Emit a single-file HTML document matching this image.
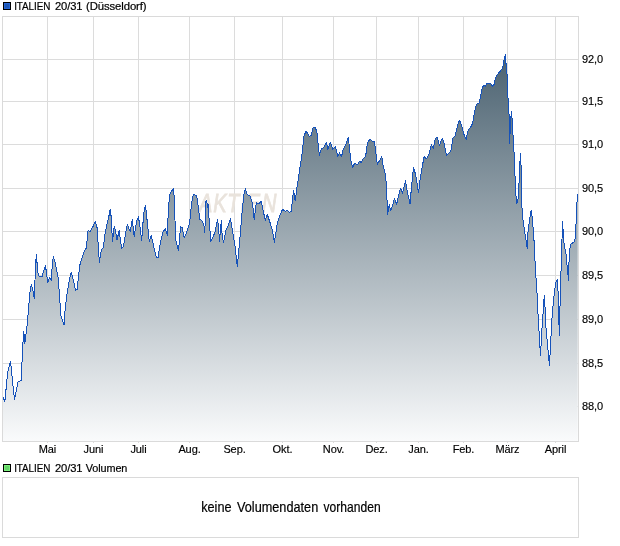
<!DOCTYPE html>
<html><head><meta charset="utf-8"><title>ITALIEN 20/31</title>
<style>
html,body{margin:0;padding:0;background:#fff;}
body{width:620px;height:546px;overflow:hidden;font-family:"Liberation Sans",sans-serif;}
svg{display:block}
text{font-family:"Liberation Sans",sans-serif;font-size:11px;fill:#000;letter-spacing:-0.1px;stroke:#000;stroke-width:0.15px}
</style></head><body>
<svg width="620" height="546" viewBox="0 0 620 546">
<defs>
<linearGradient id="g" gradientUnits="userSpaceOnUse" x1="0" y1="16.5" x2="0" y2="441.5">
<stop offset="0" stop-color="#3a5363"/>
<stop offset="1" stop-color="#fafbfc"/>
</linearGradient>
</defs>
<rect x="0" y="0" width="620" height="546" fill="#fff"/>

<rect x="3" y="2" width="8" height="8" fill="#000"/><rect x="4" y="3" width="6" height="6" fill="#2866d4"/><rect x="5" y="4" width="4" height="4" fill="#1e58b8"/>
<text y="10" style="stroke:#000;stroke-width:0.2px"><tspan x="14.2" textLength="36" lengthAdjust="spacingAndGlyphs">ITALIEN</tspan><tspan x="55" textLength="27.5" lengthAdjust="spacingAndGlyphs">20/31</tspan><tspan x="86" textLength="60.5" lengthAdjust="spacingAndGlyphs">(Düsseldorf)</tspan></text>
<g stroke="#dcdcdc" stroke-width="1" shape-rendering="crispEdges">
<line x1="47.5" y1="16.5" x2="47.5" y2="442.5"/>
<line x1="93.5" y1="16.5" x2="93.5" y2="442.5"/>
<line x1="138.5" y1="16.5" x2="138.5" y2="442.5"/>
<line x1="189.5" y1="16.5" x2="189.5" y2="442.5"/>
<line x1="234.5" y1="16.5" x2="234.5" y2="442.5"/>
<line x1="282.5" y1="16.5" x2="282.5" y2="442.5"/>
<line x1="333.5" y1="16.5" x2="333.5" y2="442.5"/>
<line x1="376.5" y1="16.5" x2="376.5" y2="442.5"/>
<line x1="418.5" y1="16.5" x2="418.5" y2="442.5"/>
<line x1="463.5" y1="16.5" x2="463.5" y2="442.5"/>
<line x1="507.5" y1="16.5" x2="507.5" y2="442.5"/>
<line x1="555.5" y1="16.5" x2="555.5" y2="442.5"/>
<line x1="2.5" y1="59.5" x2="578.5" y2="59.5"/>
<line x1="2.5" y1="101.5" x2="578.5" y2="101.5"/>
<line x1="2.5" y1="144.5" x2="578.5" y2="144.5"/>
<line x1="2.5" y1="188.5" x2="578.5" y2="188.5"/>
<line x1="2.5" y1="231.5" x2="578.5" y2="231.5"/>
<line x1="2.5" y1="275.5" x2="578.5" y2="275.5"/>
<line x1="2.5" y1="319.5" x2="578.5" y2="319.5"/>
<line x1="2.5" y1="363.5" x2="578.5" y2="363.5"/>
<line x1="2.5" y1="406.5" x2="578.5" y2="406.5"/>
</g>
<text transform="translate(198,211.7) scale(0.8,1)" x="1.2 19 36.5 53 61 80" y="0" style="font-size:25px;font-style:italic;letter-spacing:0;fill:#e9e3dc;stroke:#e9e3dc;stroke-width:0.8px">AKTIEN</text>
<path d="M3.0,396.8 L4.8,401.8 L7.7,372.6 L10.5,361.5 L14.5,399.8 L18.1,381.7 L21.2,380.6 L22.8,344.4 L23.8,331.3 L24.8,343.3 L27.2,324.2 L28.6,308.0 L29.8,292.7 L31.3,284.7 L32.9,290.7 L34.3,298.8 L35.5,266.5 L36.3,254.8 L37.3,265.5 L38.3,275.6 L40.3,276.6 L42.3,276.2 L44.0,269.6 L45.4,265.5 L46.8,274.6 L47.6,282.7 L49.4,277.6 L51.4,280.2 L52.4,262.5 L53.4,256.5 L55.4,263.5 L58.1,277.6 L59.5,294.8 L60.9,316.0 L64.1,325.2 L65.1,310.0 L66.9,294.8 L69.6,278.6 L71.2,272.6 L73.0,278.6 L75.6,290.3 L77.2,289.7 L78.6,274.6 L80.0,264.5 L83.7,252.4 L86.3,248.0 L88.1,230.2 L89.7,231.9 L92.7,227.2 L95.4,221.2 L97.2,228.2 L98.4,248.4 L99.4,262.1 L101.4,249.4 L103.4,247.4 L105.4,231.3 L108.5,218.1 L110.3,209.1 L111.4,219.0 L112.4,241.5 L114.3,226.3 L115.5,230.3 L117.0,240.0 L119.2,230.3 L121.5,248.3 L123.3,247.0 L125.7,232.5 L127.3,224.4 L130.2,231.5 L132.2,219.4 L134.2,236.5 L136.6,221.4 L138.4,216.8 L139.8,225.4 L141.7,240.6 L143.7,213.3 L145.5,205.3 L146.9,218.4 L149.3,241.6 L151.3,235.5 L153.3,244.6 L156.4,257.7 L158.0,257.7 L160.4,242.6 L162.8,232.5 L165.4,228.5 L167.3,235.5 L168.5,206.3 L170.1,193.2 L173.5,188.5 L174.5,201.3 L175.5,238.5 L178.5,250.6 L180.6,226.5 L182.0,227.5 L184.2,237.5 L186.6,232.5 L189.6,223.4 L191.7,202.3 L193.3,194.2 L196.7,196.2 L198.1,205.3 L199.7,219.4 L201.7,220.4 L203.8,224.4 L204.8,232.5 L205.8,201.3 L206.8,200.2 L207.4,207.3 L208.2,204.3 L209.2,220.4 L210.8,241.6 L213.2,236.5 L215.2,231.5 L217.5,219.4 L218.5,225.4 L219.5,241.6 L221.3,220.4 L222.1,234.5 L223.5,242.6 L225.9,230.5 L228.4,224.8 L230.5,218.5 L232.1,228.5 L235.1,246.7 L237.3,266.9 L239.7,240.6 L242.1,212.4 L243.8,195.3 L245.4,188.6 L247.2,194.7 L250.2,196.3 L252.6,204.4 L254.2,219.5 L256.3,202.3 L258.3,204.0 L261.3,201.3 L263.3,211.4 L265.3,220.1 L267.3,214.4 L270.0,222.5 L272.4,230.6 L274.4,242.3 L277.4,222.5 L280.0,215.4 L282.5,209.4 L285.5,211.4 L287.5,210.4 L289.5,212.4 L291.1,211.5 L292.5,200.3 L293.5,190.2 L295.2,201.0 L297.0,187.5 L299.8,169.0 L302.5,150.3 L304.1,135.2 L306.1,131.2 L308.1,134.2 L309.2,136.8 L311.2,135.2 L313.2,127.7 L315.2,127.1 L317.2,133.2 L318.2,145.3 L319.4,155.4 L321.3,149.3 L323.9,147.3 L326.3,142.3 L327.9,149.3 L330.3,142.3 L332.7,149.3 L335.4,146.3 L337.8,156.4 L339.4,152.7 L341.6,156.8 L342.8,150.3 L345.4,145.3 L348.5,137.2 L349.5,149.3 L351.1,161.4 L352.5,167.5 L354.5,163.4 L357.5,164.4 L359.6,161.4 L361.0,162.4 L363.6,158.4 L365.6,156.4 L367.6,142.3 L370.2,139.2 L372.7,141.9 L374.3,141.3 L375.7,151.3 L377.3,164.4 L379.7,160.4 L381.7,156.4 L383.1,165.4 L385.2,173.5 L386.4,184.6 L387.6,214.8 L389.2,204.8 L390.8,210.8 L392.8,204.8 L394.4,198.1 L396.5,204.8 L398.5,195.7 L400.5,188.2 L402.5,193.1 L405.5,181.0 L407.5,192.7 L410.0,203.8 L411.6,186.0 L413.5,167.6 L415.7,174.7 L418.5,192.8 L420.2,178.7 L422.2,166.6 L424.2,156.5 L426.6,158.9 L429.2,153.5 L431.3,144.8 L433.3,148.5 L435.3,138.4 L437.3,137.4 L439.3,145.4 L442.3,138.0 L444.4,144.4 L446.4,155.5 L448.4,153.5 L450.8,151.5 L452.8,138.4 L455.4,135.4 L457.5,125.3 L459.5,120.2 L461.5,125.3 L463.5,133.3 L466.1,139.4 L468.1,130.3 L470.6,127.3 L472.6,123.3 L473.9,115.4 L475.8,106.6 L477.3,103.6 L479.1,102.9 L480.5,96.3 L482.0,89.0 L483.5,85.3 L485.2,86.3 L486.7,83.8 L488.6,83.1 L490.8,83.6 L492.5,86.3 L494.0,84.6 L495.2,78.7 L496.6,75.8 L498.8,72.9 L500.7,70.7 L502.5,68.2 L503.5,63.3 L504.3,58.2 L505.4,55.0 L505.9,63.3 L506.6,64.1 L507.2,78.7 L508.1,100.7 L508.8,111.0 L509.3,118.2 L509.7,143.4 L510.5,120.2 L511.5,111.2 L512.3,121.3 L513.3,140.4 L514.5,160.0 L515.4,187.6 L516.6,203.4 L517.9,200.8 L518.8,189.1 L519.6,166.6 L520.6,153.5 L521.2,170.6 L521.6,197.9 L522.3,215.4 L524.2,228.6 L526.1,240.4 L527.3,249.0 L528.1,230.1 L529.8,218.4 L531.2,210.3 L532.2,217.6 L533.4,231.6 L534.4,246.2 L534.9,259.0 L535.9,276.6 L537.1,294.2 L537.8,310.3 L538.8,327.9 L539.9,346.2 L540.5,355.7 L541.0,346.2 L541.8,330.8 L542.9,316.1 L543.7,302.9 L544.3,295.0 L545.0,306.6 L545.9,326.4 L547.3,342.5 L548.7,357.2 L549.5,365.7 L550.0,355.7 L550.9,338.1 L551.7,322.0 L552.8,308.1 L554.2,294.2 L555.7,282.5 L557.5,279.9 L558.2,294.2 L558.7,316.1 L559.4,335.9 L559.8,316.0 L560.1,301.6 L560.8,276.6 L561.6,254.7 L562.0,238.9 L562.4,221.0 L563.0,228.6 L563.5,240.4 L564.5,245.9 L566.0,253.9 L567.7,272.2 L568.6,281.0 L569.2,254.7 L570.4,244.4 L572.6,242.9 L574.0,241.8 L575.2,238.9 L575.9,227.2 L576.7,205.2 L577.7,194.2 L577.7,441.5 L3.0,441.5 Z" fill="url(#g)"/>
<path d="M3.0,396.8 L4.8,401.8 L7.7,372.6 L10.5,361.5 L14.5,399.8 L18.1,381.7 L21.2,380.6 L22.8,344.4 L23.8,331.3 L24.8,343.3 L27.2,324.2 L28.6,308.0 L29.8,292.7 L31.3,284.7 L32.9,290.7 L34.3,298.8 L35.5,266.5 L36.3,254.8 L37.3,265.5 L38.3,275.6 L40.3,276.6 L42.3,276.2 L44.0,269.6 L45.4,265.5 L46.8,274.6 L47.6,282.7 L49.4,277.6 L51.4,280.2 L52.4,262.5 L53.4,256.5 L55.4,263.5 L58.1,277.6 L59.5,294.8 L60.9,316.0 L64.1,325.2 L65.1,310.0 L66.9,294.8 L69.6,278.6 L71.2,272.6 L73.0,278.6 L75.6,290.3 L77.2,289.7 L78.6,274.6 L80.0,264.5 L83.7,252.4 L86.3,248.0 L88.1,230.2 L89.7,231.9 L92.7,227.2 L95.4,221.2 L97.2,228.2 L98.4,248.4 L99.4,262.1 L101.4,249.4 L103.4,247.4 L105.4,231.3 L108.5,218.1 L110.3,209.1 L111.4,219.0 L112.4,241.5 L114.3,226.3 L115.5,230.3 L117.0,240.0 L119.2,230.3 L121.5,248.3 L123.3,247.0 L125.7,232.5 L127.3,224.4 L130.2,231.5 L132.2,219.4 L134.2,236.5 L136.6,221.4 L138.4,216.8 L139.8,225.4 L141.7,240.6 L143.7,213.3 L145.5,205.3 L146.9,218.4 L149.3,241.6 L151.3,235.5 L153.3,244.6 L156.4,257.7 L158.0,257.7 L160.4,242.6 L162.8,232.5 L165.4,228.5 L167.3,235.5 L168.5,206.3 L170.1,193.2 L173.5,188.5 L174.5,201.3 L175.5,238.5 L178.5,250.6 L180.6,226.5 L182.0,227.5 L184.2,237.5 L186.6,232.5 L189.6,223.4 L191.7,202.3 L193.3,194.2 L196.7,196.2 L198.1,205.3 L199.7,219.4 L201.7,220.4 L203.8,224.4 L204.8,232.5 L205.8,201.3 L206.8,200.2 L207.4,207.3 L208.2,204.3 L209.2,220.4 L210.8,241.6 L213.2,236.5 L215.2,231.5 L217.5,219.4 L218.5,225.4 L219.5,241.6 L221.3,220.4 L222.1,234.5 L223.5,242.6 L225.9,230.5 L228.4,224.8 L230.5,218.5 L232.1,228.5 L235.1,246.7 L237.3,266.9 L239.7,240.6 L242.1,212.4 L243.8,195.3 L245.4,188.6 L247.2,194.7 L250.2,196.3 L252.6,204.4 L254.2,219.5 L256.3,202.3 L258.3,204.0 L261.3,201.3 L263.3,211.4 L265.3,220.1 L267.3,214.4 L270.0,222.5 L272.4,230.6 L274.4,242.3 L277.4,222.5 L280.0,215.4 L282.5,209.4 L285.5,211.4 L287.5,210.4 L289.5,212.4 L291.1,211.5 L292.5,200.3 L293.5,190.2 L295.2,201.0 L297.0,187.5 L299.8,169.0 L302.5,150.3 L304.1,135.2 L306.1,131.2 L308.1,134.2 L309.2,136.8 L311.2,135.2 L313.2,127.7 L315.2,127.1 L317.2,133.2 L318.2,145.3 L319.4,155.4 L321.3,149.3 L323.9,147.3 L326.3,142.3 L327.9,149.3 L330.3,142.3 L332.7,149.3 L335.4,146.3 L337.8,156.4 L339.4,152.7 L341.6,156.8 L342.8,150.3 L345.4,145.3 L348.5,137.2 L349.5,149.3 L351.1,161.4 L352.5,167.5 L354.5,163.4 L357.5,164.4 L359.6,161.4 L361.0,162.4 L363.6,158.4 L365.6,156.4 L367.6,142.3 L370.2,139.2 L372.7,141.9 L374.3,141.3 L375.7,151.3 L377.3,164.4 L379.7,160.4 L381.7,156.4 L383.1,165.4 L385.2,173.5 L386.4,184.6 L387.6,214.8 L389.2,204.8 L390.8,210.8 L392.8,204.8 L394.4,198.1 L396.5,204.8 L398.5,195.7 L400.5,188.2 L402.5,193.1 L405.5,181.0 L407.5,192.7 L410.0,203.8 L411.6,186.0 L413.5,167.6 L415.7,174.7 L418.5,192.8 L420.2,178.7 L422.2,166.6 L424.2,156.5 L426.6,158.9 L429.2,153.5 L431.3,144.8 L433.3,148.5 L435.3,138.4 L437.3,137.4 L439.3,145.4 L442.3,138.0 L444.4,144.4 L446.4,155.5 L448.4,153.5 L450.8,151.5 L452.8,138.4 L455.4,135.4 L457.5,125.3 L459.5,120.2 L461.5,125.3 L463.5,133.3 L466.1,139.4 L468.1,130.3 L470.6,127.3 L472.6,123.3 L473.9,115.4 L475.8,106.6 L477.3,103.6 L479.1,102.9 L480.5,96.3 L482.0,89.0 L483.5,85.3 L485.2,86.3 L486.7,83.8 L488.6,83.1 L490.8,83.6 L492.5,86.3 L494.0,84.6 L495.2,78.7 L496.6,75.8 L498.8,72.9 L500.7,70.7 L502.5,68.2 L503.5,63.3 L504.3,58.2 L505.4,55.0 L505.9,63.3 L506.6,64.1 L507.2,78.7 L508.1,100.7 L508.8,111.0 L509.3,118.2 L509.7,143.4 L510.5,120.2 L511.5,111.2 L512.3,121.3 L513.3,140.4 L514.5,160.0 L515.4,187.6 L516.6,203.4 L517.9,200.8 L518.8,189.1 L519.6,166.6 L520.6,153.5 L521.2,170.6 L521.6,197.9 L522.3,215.4 L524.2,228.6 L526.1,240.4 L527.3,249.0 L528.1,230.1 L529.8,218.4 L531.2,210.3 L532.2,217.6 L533.4,231.6 L534.4,246.2 L534.9,259.0 L535.9,276.6 L537.1,294.2 L537.8,310.3 L538.8,327.9 L539.9,346.2 L540.5,355.7 L541.0,346.2 L541.8,330.8 L542.9,316.1 L543.7,302.9 L544.3,295.0 L545.0,306.6 L545.9,326.4 L547.3,342.5 L548.7,357.2 L549.5,365.7 L550.0,355.7 L550.9,338.1 L551.7,322.0 L552.8,308.1 L554.2,294.2 L555.7,282.5 L557.5,279.9 L558.2,294.2 L558.7,316.1 L559.4,335.9 L559.8,316.0 L560.1,301.6 L560.8,276.6 L561.6,254.7 L562.0,238.9 L562.4,221.0 L563.0,228.6 L563.5,240.4 L564.5,245.9 L566.0,253.9 L567.7,272.2 L568.6,281.0 L569.2,254.7 L570.4,244.4 L572.6,242.9 L574.0,241.8 L575.2,238.9 L575.9,227.2 L576.7,205.2 L577.7,194.2" fill="none" stroke="#1552ba" stroke-width="1" stroke-linejoin="round" shape-rendering="crispEdges"/>
<rect x="2.5" y="16.5" width="576.0" height="425.0" fill="none" stroke="#dadada" shape-rendering="crispEdges"/>
<text x="47.5" y="453" text-anchor="middle">Mai</text>
<text x="93.5" y="453" text-anchor="middle">Juni</text>
<text x="138.5" y="453" text-anchor="middle">Juli</text>
<text x="189.5" y="453" text-anchor="middle">Aug.</text>
<text x="234.5" y="453" text-anchor="middle">Sep.</text>
<text x="282.5" y="453" text-anchor="middle">Okt.</text>
<text x="333.5" y="453" text-anchor="middle">Nov.</text>
<text x="376.5" y="453" text-anchor="middle">Dez.</text>
<text x="418.5" y="453" text-anchor="middle">Jan.</text>
<text x="463.5" y="453" text-anchor="middle">Feb.</text>
<text x="507.5" y="453" text-anchor="middle">März</text>
<text x="555.5" y="453" text-anchor="middle">April</text>
<text x="582" y="62.7">92,0</text>
<text x="582" y="104.7">91,5</text>
<text x="582" y="147.7">91,0</text>
<text x="582" y="191.7">90,5</text>
<text x="582" y="234.7">90,0</text>
<text x="582" y="278.7">89,5</text>
<text x="582" y="322.7">89,0</text>
<text x="582" y="366.7">88,5</text>
<text x="582" y="409.7">88,0</text>
<rect x="3" y="464" width="8" height="8" fill="#000"/><rect x="4" y="465" width="6" height="6" fill="#7cf07c"/><rect x="5" y="466" width="4" height="4" fill="#64d468"/>
<text y="471.8" style="stroke:#000;stroke-width:0.2px"><tspan x="14.2" textLength="36" lengthAdjust="spacingAndGlyphs">ITALIEN</tspan><tspan x="55" textLength="27.5" lengthAdjust="spacingAndGlyphs">20/31</tspan><tspan x="85.8" textLength="41.5" lengthAdjust="spacingAndGlyphs">Volumen</tspan></text>
<rect x="2.5" y="477.5" width="576.0" height="60" fill="#fff" stroke="#dadada" shape-rendering="crispEdges"/>
<text y="512" style="font-size:13.9px;letter-spacing:0;stroke:#000;stroke-width:0.2px"><tspan x="201.2" textLength="30.3" lengthAdjust="spacingAndGlyphs">keine</tspan><tspan x="237" textLength="81.2" lengthAdjust="spacingAndGlyphs">Volumendaten</tspan><tspan x="323.6" textLength="57" lengthAdjust="spacingAndGlyphs">vorhanden</tspan></text>
</svg></body></html>
